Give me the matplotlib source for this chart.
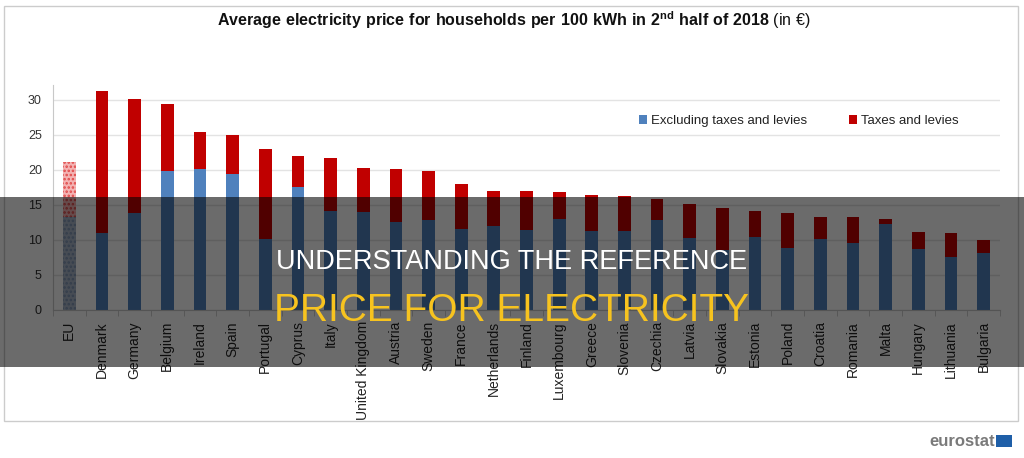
import numpy as np
import matplotlib.pyplot as plt
from matplotlib.patches import Rectangle

countries = ["EU", "Denmark", "Germany", "Belgium", "Ireland", "Spain", "Portugal",
             "Cyprus", "Italy", "United Kingdom", "Austria", "Sweden", "France",
             "Netherlands", "Finland", "Luxembourg", "Greece", "Slovenia", "Czechia",
             "Latvia", "Slovakia", "Estonia", "Poland", "Croatia", "Romania", "Malta",
             "Hungary", "Lithuania", "Bulgaria"]
# prix hors taxes et total (EUR / 100 kWh)
excl_taxes = [13.2, 11.0, 13.8, 19.9, 20.1, 19.4, 10.2, 17.5, 14.1, 14.0, 12.6, 12.9,
              11.5, 12.0, 11.4, 13.0, 11.2, 11.2, 12.9, 10.3, 8.6, 10.4, 8.8, 10.2,
              9.5, 12.3, 8.7, 7.5, 8.2]
total = [21.1, 31.3, 30.1, 29.4, 25.4, 24.9, 23.0, 21.9, 21.7, 20.2, 20.1, 19.9,
         18.0, 17.0, 17.0, 16.9, 16.4, 16.3, 15.8, 15.1, 14.6, 14.1, 13.9, 13.2,
         13.2, 13.0, 11.1, 11.0, 10.0]
taxes = [t - e for t, e in zip(total, excl_taxes)]

blue = "#4f81bd"
red = "#c00000"

plt.rcParams["font.family"] = ["Liberation Sans", "DejaVu Sans"]
plt.rcParams["mathtext.fontset"] = "custom"
plt.rcParams["mathtext.rm"] = "Liberation Sans"
plt.rcParams["mathtext.bf"] = "Liberation Sans:bold"
plt.rcParams["hatch.linewidth"] = 1.2

fig = plt.figure(figsize=(10.24, 4.58), dpi=100)
ax = fig.add_axes([53/1024, 1 - 310/458, 947/1024, 225/458])

x = np.arange(len(countries))
w = 0.39
ax.bar(x[1:], excl_taxes[1:], w, color=blue, label="Excluding taxes and levies", zorder=2)
ax.bar(x[1:], taxes[1:], w, bottom=excl_taxes[1:], color=red, label="Taxes and levies", zorder=2)
# EU : barre hachurée
ax.bar(x[0], excl_taxes[0], w, facecolor="#a9b6c8", edgecolor="#7d93b3", hatch="....", linewidth=0, zorder=2)
ax.bar(x[0], taxes[0], w, bottom=excl_taxes[0], facecolor="#f3b3b3", edgecolor="#e04848",
       hatch="....", linewidth=0, zorder=2)

ax.set_xlim(-0.5, len(countries) - 0.5)
ax.set_ylim(0, 32.1)
ax.set_yticks(range(0, 31, 5))
ax.yaxis.grid(True, color="#e3e3e3", linewidth=1, zorder=0)
ax.set_axisbelow(True)
for s in ["top", "right"]:
    ax.spines[s].set_visible(False)
ax.spines["left"].set_color("#c8c8c8")
ax.spines["bottom"].set_color("#c8c8c8")
ax.tick_params(axis="y", length=0, labelsize=9, labelcolor="#333333", pad=8)
ax.set_xticks(x)
ax.set_xticklabels(countries, rotation=90, fontsize=10, color="#222222")
ax.tick_params(axis="x", length=0, pad=8)
ax.set_xticks(np.arange(-0.5, len(countries), 1), minor=True)
ax.tick_params(axis="x", which="minor", length=4, color="#c8c8c8")

ax.legend(loc="center right", bbox_to_anchor=(0.962, 0.84), ncol=2, frameon=False,
          fontsize=9.5, handlelength=0.6, handleheight=0.6, handletextpad=0.3,
          columnspacing=3.2, labelcolor="#222222", borderaxespad=0)

# cadre et titre
fig.patches.append(Rectangle((4/1024, 1 - 421/458), 1014/1024, 415/458, transform=fig.transFigure,
                             fill=False, edgecolor="#cccccc", linewidth=1))
fig.text(0.502, 1 - 20/458,
         r"$\bf{Average\ electricity\ price\ for\ households\ per\ 100\ kWh\ in\ 2^{nd}\ half\ of\ 2018}$ (in €)",
         ha="center", va="center", fontsize=11.5, color="#111111")
fig.text(995/1024, 1 - 441/458, "eurostat", ha="right", va="center", fontsize=12,
         fontweight="bold", color="#7a7a7a")
fig.patches.append(Rectangle((996/1024, 1 - 447/458), 16/1024, 12/458, transform=fig.transFigure,
                             facecolor="#1f5fa8", edgecolor="none"))

# bandeau sombre
fig.patches.append(Rectangle((0, 1 - 367/458), 1, 170/458, transform=fig.transFigure,
                             facecolor="black", alpha=0.58, edgecolor="none", zorder=5))
fig.text(0.5, 1 - 262/458, "UNDERSTANDING THE REFERENCE", ha="center", va="center",
         fontsize=19.5, color="white", zorder=6)
fig.text(0.5, 1 - 311/458, "PRICE FOR ELECTRICITY", ha="center", va="center",
         fontsize=28, color="#f7c31f", zorder=6)

fig.savefig("out.png", dpi=100)
